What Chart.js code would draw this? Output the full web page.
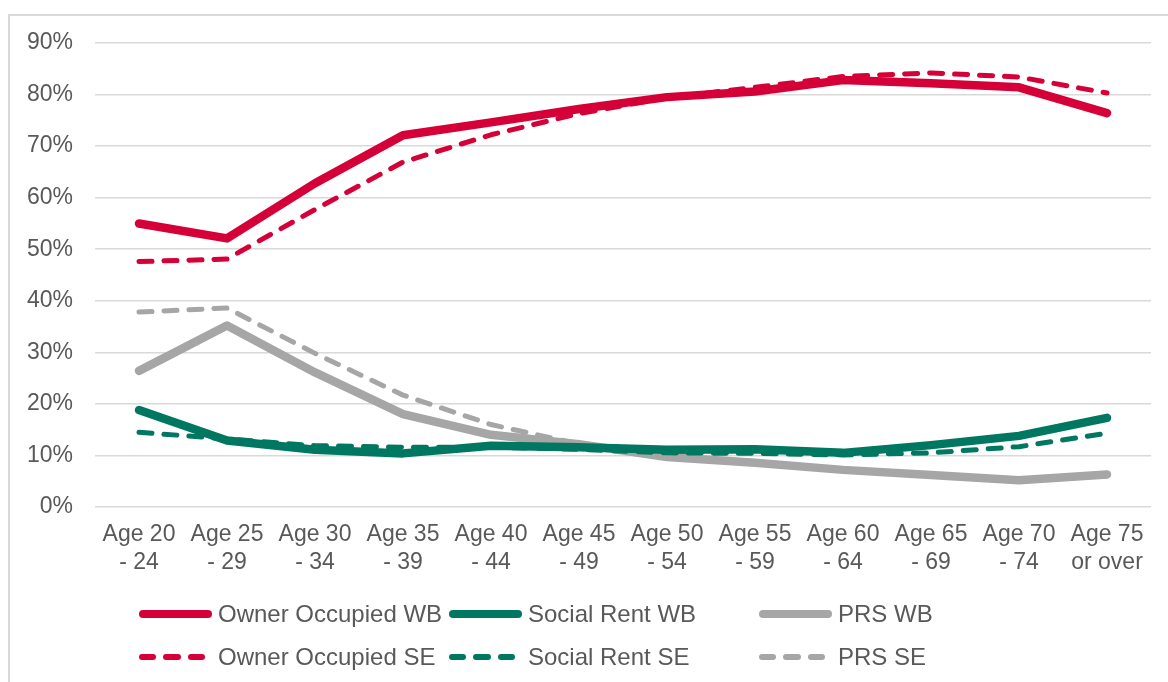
<!DOCTYPE html>
<html>
<head>
<meta charset="utf-8">
<script src="https://cdn.jsdelivr.net/npm/chart.js@4/dist/chart.umd.min.js"></script>
<style>
  html, body { margin: 0; padding: 0; background: #fff; overflow: hidden; }
  #wrap { position: relative; width: 1168px; height: 682px; font-family: "Liberation Sans", Arial, sans-serif; }
  #frame { position: absolute; left: 8px; top: 14px; width: 1200px; height: 700px;
           border-left: 2px solid #d9d9d9; border-top: 2px solid #d9d9d9; box-sizing: border-box; }
  #chart { position: absolute; left: 0; top: 0; }
  .item { position: absolute; height: 28px; display: flex; align-items: center; color: #595959; font-size: 24px; white-space: nowrap; }
  .sample { width: 73px; height: 28px; display: flex; align-items: center; margin-right: 6px; }
  .solid { width: 73px; height: 8px; border-radius: 4px; }
  .dash { width: 18px; height: 6px; border-radius: 3px; margin-right: 7px; }
</style>
</head>
<body>
<div id="wrap">
  <div id="frame"></div>
  <canvas id="chart" width="1168" height="682"></canvas>
  <div id="legend"></div>
</div>
<script>
const labels = [
  ["Age 20", "- 24"], ["Age 25", "- 29"], ["Age 30", "- 34"], ["Age 35", "- 39"],
  ["Age 40", "- 44"], ["Age 45", "- 49"], ["Age 50", "- 54"], ["Age 55", "- 59"],
  ["Age 60", "- 64"], ["Age 65", "- 69"], ["Age 70", "- 74"], ["Age 75", "or over"]
];

const ownerWB  = [55.0, 52.1, 62.8, 72.1, 74.6, 77.2, 79.5, 80.6, 82.8, 82.2, 81.4, 76.4];
const socialWB = [18.8, 12.9, 11.1, 10.4, 11.9, 11.6, 11.1, 11.2, 10.5, 12.0, 13.8, 17.3];
const prsWB    = [26.4, 35.2, 26.1, 18.0, 14.0, 12.2,  9.7,  8.6,  7.2,  6.2,  5.2,  6.3];
const ownerSE  = [47.6, 48.1, 57.7, 66.9, 72.2, 76.3, 79.4, 81.4, 83.5, 84.2, 83.4, 80.3];
const socialSE = [14.5, 13.2, 11.9, 11.6, 11.6, 11.2, 10.5, 10.4, 10.1, 10.5, 11.7, 14.3];
const prsSE    = [37.8, 38.6, 29.8, 21.7, 16.0, 12.2, 10.8, 11.1, 10.5, 11.9, 13.7, 17.2];

const RED = '#d50037', GREEN = '#007760', GREY = '#a6a6a6';
const TXT = '#595959';

function solid(label, data, color, order) {
  return { label, data, borderColor: color, backgroundColor: color, borderWidth: 8.5,
           borderCapStyle: 'round', borderJoinStyle: 'round', pointRadius: 0, tension: 0, order };
}
function dashed(label, data, color, order) {
  return { label, data, borderColor: color, backgroundColor: color, borderWidth: 5,
           borderDash: [13, 12], borderCapStyle: 'round', borderJoinStyle: 'round',
           pointRadius: 0, tension: 0, order };
}

const datasets = [
  solid('Owner Occupied WB', ownerWB, RED, 3),
  solid('Social Rent WB', socialWB, GREEN, 1),
  solid('PRS WB', prsWB, GREY, 5),
  dashed('Owner Occupied SE', ownerSE, RED, 4),
  dashed('Social Rent SE', socialSE, GREEN, 2),
  dashed('PRS SE', prsSE, GREY, 6)
];

Chart.defaults.font.family = '"Liberation Sans", Arial, sans-serif';
Chart.defaults.color = TXT;

const chart = new Chart(document.getElementById('chart'), {
  type: 'line',
  data: { labels, datasets },
  options: {
    responsive: false,
    animation: false,
    layout: { padding: { left: 10, top: 43, right: 17, bottom: 0 } },
    plugins: { legend: { display: false }, tooltip: { enabled: false } },
    scales: {
      x: {
        offset: true,
        grid: { display: false, drawTicks: false, offset: true },
        border: { display: false },
        ticks: { font: { size: 23 }, color: TXT, padding: 14, maxRotation: 0, autoSkip: false },
        afterFit: s => { s.height = 175; }
      },
      y: {
        min: 0, max: 90,
        grid: { color: '#d9d9d9', lineWidth: 1.5, drawTicks: false },
        border: { display: false },
        ticks: { stepSize: 10, font: { size: 23 }, color: TXT, padding: 22, callback: v => v + '%' },
        afterFit: s => { s.width = 85; }
      }
    }
  }
});

// legend in Excel's fixed 3-column grid
const legend = document.getElementById('legend');
chart.data.datasets.forEach((ds, i) => {
  const col = i % 3, row = Math.floor(i / 3);
  const item = document.createElement('div');
  item.className = 'item';
  item.style.left = (139 + col * 310) + 'px';
  item.style.top = (614 + row * 43 - 14) + 'px';
  const sample = document.createElement('div');
  sample.className = 'sample';
  if (ds.borderDash) {
    for (let k = 0; k < 3; k++) {
      const d = document.createElement('div');
      d.className = 'dash';
      d.style.background = ds.borderColor;
      sample.appendChild(d);
    }
  } else {
    const d = document.createElement('div');
    d.className = 'solid';
    d.style.background = ds.borderColor;
    sample.appendChild(d);
  }
  item.appendChild(sample);
  item.appendChild(document.createTextNode(ds.label));
  legend.appendChild(item);
});
</script>
</body>
</html>
